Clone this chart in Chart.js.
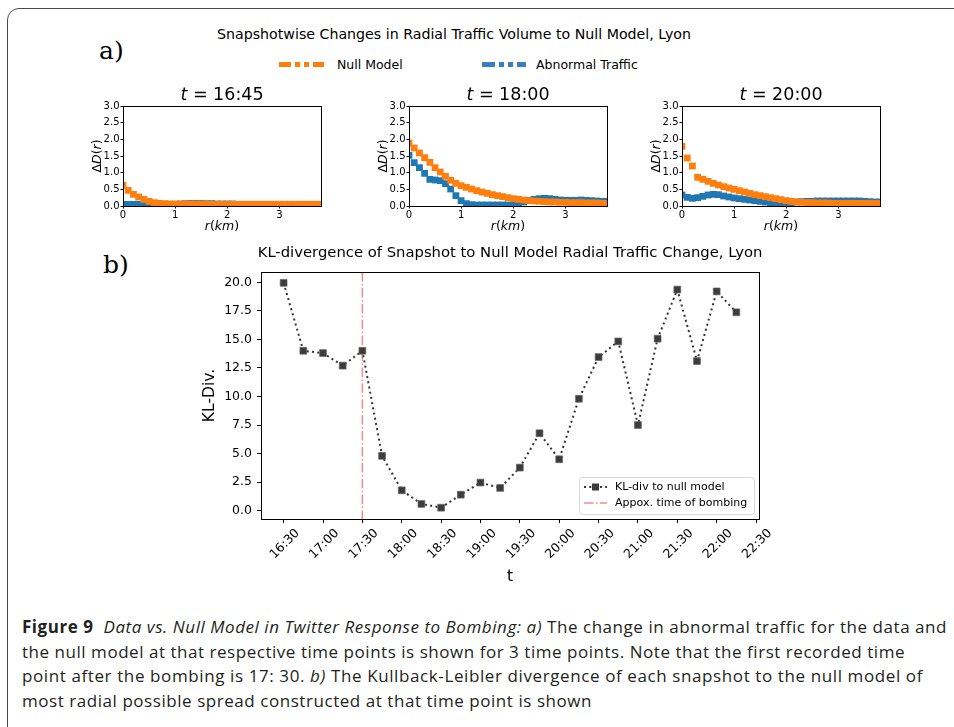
<!DOCTYPE html>
<html>
<head>
<meta charset="utf-8">
<script src="https://cdn.jsdelivr.net/npm/chart.js@4.4.0/dist/chart.umd.min.js"></script>
<style>
  body { margin: 0; width: 954px; height: 727px; background: #fff; position: relative; overflow: hidden; font-family: 'DejaVu Sans', sans-serif; color: #000; }
  .frame { position: absolute; left: 7px; top: 8px; width: 1000px; height: 800px; border: 1.5px solid #4a4a4a; border-radius: 12px; }
  .abs { position: absolute; white-space: nowrap; }
  .panel-tag { font-family: 'DejaVu Serif', serif; font-size: 25px; line-height: 26px; }
  .suptitle { font-size: 14.2px; line-height: 16px; transform: translateX(-50%); }
  .leg-text { font-size: 12.5px; line-height: 16px; }
  .sample { position: absolute; height: 5px; }
  .sample span { position: absolute; top: 0; height: 5px; }
  canvas { position: absolute; }
  .caption { position: absolute; left: 22px; top: 615px; font-family: 'Open Sans', sans-serif; font-size: 17px; line-height: 24.7px; color: #231f20; }
  .caption div { white-space: nowrap; width: max-content; }
</style>
</head>
<body>
<div class="frame"></div>

<div class="abs panel-tag" style="left:99px; top:38px;">a)</div>
<div class="abs panel-tag" style="left:103px; top:252px;">b)</div>

<div class="abs suptitle" style="left:454px; top:26px;">Snapshotwise Changes in Radial Traffic Volume to Null Model, Lyon</div>

<div class="sample" id="sampleNull" style="left:279px; top:62px;"></div>
<div class="abs leg-text" style="left:337px; top:57px;">Null Model</div>
<div class="sample" id="sampleAbn" style="left:482px; top:62px;"></div>
<div class="abs leg-text" style="left:536px; top:57px;">Abnormal Traffic</div>

<canvas id="snap1" width="245" height="152" style="left:85px; top:80px;"></canvas>
<canvas id="snap2" width="245" height="152" style="left:371px; top:80px;"></canvas>
<canvas id="snap3" width="245" height="152" style="left:644px; top:80px;"></canvas>

<canvas id="klChart" width="660" height="370" style="left:140px; top:240px;"></canvas>

<div class="caption">
  <div class="cap-line" data-w="925"><b>Figure 9</b>&nbsp;&nbsp;<i>Data vs. Null Model in Twitter Response to Bombing: a)</i> The change in abnormal traffic for the data and</div>
  <div class="cap-line" data-w="883">the null model at that respective time points is shown for 3 time points. Note that the first recorded time</div>
  <div class="cap-line" data-w="901">point after the bombing is 17: 30. <i>b)</i> The Kullback-Leibler divergence of each snapshot to the null model of</div>
  <div class="cap-line" data-w="570">most radial possible spread constructed at that time point is shown</div>
</div>

<script>
// 半径 (km)
const rKm = [0.0, 0.1, 0.2, 0.3, 0.4, 0.5, 0.6, 0.7, 0.8, 0.9,
             1.0, 1.1, 1.2, 1.3, 1.4, 1.5, 1.6, 1.7, 1.8, 1.9,
             2.0, 2.1, 2.2, 2.3, 2.4, 2.5, 2.6, 2.7, 2.8, 2.9,
             3.0, 3.1, 3.2, 3.3, 3.4, 3.5, 3.6, 3.7, 3.8];

// t = 16:45
const null1645 = [0.62, 0.47, 0.35, 0.27, 0.20, 0.14, 0.10, 0.08, 0.07, 0.06,
                  0.06, 0.06, 0.06, 0.06, 0.06, 0.06, 0.06, 0.05, 0.05, 0.05,
                  0.05, 0.05, 0.05, 0.05, 0.05, 0.05, 0.05, 0.05, 0.05, 0.05,
                  0.05, 0.05, 0.05, 0.05, 0.05, 0.05, 0.05, 0.05, 0.05];
const abnormal1645 = [0.05, 0.05, 0.05, 0.05, 0.04, 0.04, 0.04, 0.04, 0.05, 0.05,
                      0.05, 0.06, 0.07, 0.08, 0.08, 0.08, 0.07, 0.07, 0.06, 0.06,
                      0.06, 0.06, 0.05, 0.05, 0.05, 0.05, 0.05, 0.05, 0.05, 0.05,
                      0.05, 0.05, 0.05, 0.05, 0.05, 0.05, 0.05, 0.05, 0.05];

// t = 18:00
const null1800 = [1.89, 1.74, 1.59, 1.45, 1.31, 1.15, 1.02, 0.89, 0.77, 0.68,
                  0.61, 0.56, 0.51, 0.46, 0.42, 0.38, 0.34, 0.31, 0.28, 0.25,
                  0.22, 0.20, 0.18, 0.16, 0.15, 0.14, 0.13, 0.12, 0.12, 0.11,
                  0.11, 0.10, 0.10, 0.10, 0.09, 0.09, 0.09, 0.08, 0.08];
const abnormal1800 = [1.52, 1.30, 1.15, 0.98, 0.80, 0.78, 0.76, 0.67, 0.51, 0.31,
                      0.16, 0.07, 0.04, 0.03, 0.03, 0.03, 0.03, 0.03, 0.03, 0.03,
                      0.04, 0.07, 0.12, 0.17, 0.20, 0.22, 0.23, 0.22, 0.20, 0.18,
                      0.17, 0.17, 0.17, 0.18, 0.17, 0.16, 0.15, 0.14, 0.14];

// t = 20:00
const null2000 = [1.79, 1.44, 1.20, 0.86, 0.80, 0.74, 0.68, 0.63, 0.58, 0.54,
                  0.50, 0.46, 0.42, 0.38, 0.34, 0.31, 0.28, 0.25, 0.22, 0.19,
                  0.16, 0.14, 0.12, 0.11, 0.10, 0.10, 0.09, 0.09, 0.09, 0.08,
                  0.08, 0.08, 0.08, 0.08, 0.08, 0.08, 0.08, 0.08, 0.08];
const abnormal2000 = [0.33, 0.26, 0.23, 0.25, 0.29, 0.33, 0.35, 0.34, 0.30, 0.27,
                      0.24, 0.22, 0.20, 0.18, 0.16, 0.14, 0.12, 0.10, 0.08, 0.07,
                      0.08, 0.10, 0.12, 0.13, 0.14, 0.14, 0.15, 0.15, 0.15, 0.15,
                      0.15, 0.15, 0.15, 0.15, 0.15, 0.14, 0.13, 0.12, 0.12];

const snapshotLabels = ['16:45', '18:00', '20:00'];

// KL 散度
const klTimes = ['16:30', '16:45', '17:00', '17:15', '17:30', '17:45', '18:00', '18:15',
                 '18:30', '18:45', '19:00', '19:15', '19:30', '19:45', '20:00', '20:15',
                 '20:30', '20:45', '21:00', '21:15', '21:30', '21:45', '22:00', '22:15'];
const klDiv = [19.95, 14.0, 13.8, 12.7, 14.0, 4.8, 1.78, 0.59,
               0.26, 1.4, 2.46, 1.99, 3.77, 6.78, 4.5, 9.8,
               13.45, 14.82, 7.5, 15.06, 19.36, 13.1, 19.2, 17.37];
const bombTime = '17:30';

const ORANGE = '#ff7f0e';
const BLUE = '#1f77b4';
const FONT = 'DejaVu Sans';

function toMin(t) {
  const [h, m] = t.split(':').map(Number);
  return h * 60 + m;
}
function fmtTime(v) {
  const h = Math.floor(v / 60);
  const m = Math.round(v % 60);
  return `${h}:${String(m).padStart(2, '0')}`;
}

// 画混合斜体文字 (mathtext 样式)
function drawMath(ctx, parts, x, y, size, rot) {
  ctx.save();
  ctx.translate(x, y);
  ctx.rotate(rot || 0);
  ctx.textBaseline = 'middle';
  ctx.textAlign = 'left';
  ctx.fillStyle = '#000';
  let total = 0;
  parts.forEach(p => {
    ctx.font = `${p[1] ? 'italic ' : ''}${size}px "${FONT}"`;
    total += ctx.measureText(p[0]).width;
  });
  let cx = -total / 2;
  parts.forEach(p => {
    ctx.font = `${p[1] ? 'italic ' : ''}${size}px "${FONT}"`;
    ctx.fillText(p[0], cx, 0);
    cx += ctx.measureText(p[0]).width;
  });
  ctx.restore();
}

function strokeBox(ctx, a) {
  ctx.save();
  ctx.strokeStyle = '#000';
  ctx.lineWidth = 1;
  ctx.strokeRect(Math.round(a.left) + 0.5, Math.round(a.top) + 0.5,
                 Math.round(a.right - a.left), Math.round(a.bottom - a.top));
  ctx.restore();
}

// 图例样例 (a)
function buildSample(id, color, pattern) {
  const el = document.getElementById(id);
  let x = 0;
  pattern.forEach((w, i) => {
    if (i % 2 === 0) {
      const s = document.createElement('span');
      s.style.left = x + 'px';
      s.style.width = w + 'px';
      s.style.background = color;
      el.appendChild(s);
    }
    x += w;
  });
}
buildSample('sampleNull', ORANGE, [12, 4, 5, 4, 5, 4, 11]);
buildSample('sampleAbn', '#3a7ebf', [13, 4, 5, 4, 5, 4, 9]);

// 小图
function makeSnapshot(canvasId, label, nullData, abnData) {
  const decor = {
    id: 'snapDecor',
    afterDraw(chart) {
      const ctx = chart.ctx;
      const a = chart.chartArea;
      strokeBox(ctx, a);
      const cx = (a.left + a.right) / 2;
      drawMath(ctx, [['t', true], [' = ' + label, false]], cx, a.top - 11, 17.5);
      drawMath(ctx, [['Δ', false], ['D', true], ['(', false], ['r', true], [')', false]],
               a.left - 25, (a.top + a.bottom) / 2, 12.5, -Math.PI / 2);
      drawMath(ctx, [['r', true], ['(', false], ['km', true], [')', false]], cx, a.bottom + 21, 12.5);
    }
  };
  const pointDs = (lbl, data, color) => ({
    label: lbl,
    data: rKm.map((r, i) => ({ x: r, y: data[i] })),
    showLine: false,
    pointStyle: 'rect',
    pointRadius: 4.8,
    pointBorderWidth: 0,
    pointBackgroundColor: color,
    borderColor: color,
    clip: 0,
  });
  return new Chart(document.getElementById(canvasId), {
    type: 'line',
    data: {
      datasets: [
        pointDs('Null Model', nullData, ORANGE),
        pointDs('Abnormal Traffic', abnData, BLUE),
      ]
    },
    options: {
      responsive: false,
      animation: false,
      events: [],
      layout: { padding: { top: 26, right: 9, left: 0, bottom: 0 } },
      plugins: { legend: { display: false }, tooltip: { enabled: false } },
      scales: {
        x: {
          type: 'linear', min: 0, max: 3.8,
          afterFit: s => { s.height = 26; },
          border: { display: false },
          grid: { drawOnChartArea: false, tickLength: 2.5, color: '#000' },
          ticks: { stepSize: 1, includeBounds: false, padding: 1, maxRotation: 0, color: '#000',
                   font: { family: FONT, size: 10 } }
        },
        y: {
          min: 0, max: 3,
          afterFit: s => { s.width = 38; },
          border: { display: false },
          grid: { drawOnChartArea: false, tickLength: 2.5, color: '#000' },
          ticks: { stepSize: 0.5, padding: 1, color: '#000', font: { family: FONT, size: 10 },
                   callback: v => v.toFixed(1) }
        }
      }
    },
    plugins: [decor]
  });
}

makeSnapshot('snap1', snapshotLabels[0], null1645, abnormal1645);
makeSnapshot('snap2', snapshotLabels[1], null1800, abnormal1800);
makeSnapshot('snap3', snapshotLabels[2], null2000, abnormal2000);

// KL 主图
const xMin = toMin(klTimes[0]) - 17.25;
const xMax = toMin(klTimes[klTimes.length - 1]) + 17.25;
const yMin = -0.73;
const yMax = 20.9;
const BOMB_COLOR = '#f48a8a';
const LINE_DASH = [2, 3.3];
const BOMB_DASH = [9.6, 2.4, 1.5, 2.4];

const klDecor = {
  id: 'klDecor',
  beforeDatasetsDraw(chart) {
    const ctx = chart.ctx;
    const a = chart.chartArea;
    const x = chart.scales.x.getPixelForValue(toMin(bombTime));
    ctx.save();
    ctx.strokeStyle = BOMB_COLOR;
    ctx.lineWidth = 1.5;
    ctx.setLineDash(BOMB_DASH);
    ctx.beginPath();
    ctx.moveTo(x, a.top);
    ctx.lineTo(x, a.bottom);
    ctx.stroke();
    ctx.restore();
  },
  afterDraw(chart) {
    const ctx = chart.ctx;
    const a = chart.chartArea;
    strokeBox(ctx, a);
    const cx = (a.left + a.right) / 2;
    ctx.save();
    ctx.fillStyle = '#000';
    ctx.textAlign = 'center';
    ctx.textBaseline = 'middle';
    ctx.font = `14.8px "${FONT}"`;
    ctx.fillText('KL-divergence of Snapshot to Null Model Radial Traffic Change, Lyon', cx, a.top - 19);
    ctx.font = `15.5px "${FONT}"`;
    ctx.fillText('t', cx, a.bottom + 58);
    ctx.translate(a.left - 51, (a.top + a.bottom) / 2);
    ctx.rotate(-Math.PI / 2);
    ctx.fillText('KL-Div.', 0, 0);
    ctx.restore();

    // 图例
    const w = 175, h = 37;
    const lx = a.right - 5 - w, ly = a.bottom - 5 - h;
    ctx.save();
    ctx.beginPath();
    ctx.roundRect(lx + 0.5, ly + 0.5, w, h, 3);
    ctx.fillStyle = 'rgba(255,255,255,0.8)';
    ctx.fill();
    ctx.strokeStyle = '#d6d6d6';
    ctx.lineWidth = 1;
    ctx.stroke();
    const row1 = ly + 10, row2 = ly + 26;
    ctx.strokeStyle = '#333';
    ctx.lineWidth = 2;
    ctx.setLineDash(LINE_DASH);
    ctx.beginPath();
    ctx.moveTo(lx + 5, row1);
    ctx.lineTo(lx + 28, row1);
    ctx.stroke();
    ctx.setLineDash([]);
    ctx.fillStyle = '#3a3a3a';
    ctx.fillRect(lx + 13, row1 - 3.5, 7, 7);
    ctx.strokeStyle = BOMB_COLOR;
    ctx.lineWidth = 1.5;
    ctx.setLineDash(BOMB_DASH);
    ctx.beginPath();
    ctx.moveTo(lx + 5, row2);
    ctx.lineTo(lx + 28, row2);
    ctx.stroke();
    ctx.setLineDash([]);
    ctx.fillStyle = '#000';
    ctx.font = `11px "${FONT}"`;
    ctx.textAlign = 'left';
    ctx.textBaseline = 'middle';
    ctx.fillText('KL-div to null model', lx + 36, row1);
    ctx.fillText('Appox. time of bombing', lx + 36, row2);
    ctx.restore();
  }
};

new Chart(document.getElementById('klChart'), {
  type: 'line',
  data: {
    datasets: [{
      label: 'KL-div to null model',
      data: klTimes.map((t, i) => ({ x: toMin(t), y: klDiv[i] })),
      borderColor: '#333',
      borderWidth: 2,
      borderDash: LINE_DASH,
      tension: 0,
      fill: false,
      pointStyle: 'rect',
      pointRadius: 4.8,
      pointBorderWidth: 1,
      pointBackgroundColor: '#3c3c3c',
      pointBorderColor: 'rgba(100,100,100,0.7)',
    }]
  },
  options: {
    responsive: false,
    animation: false,
    events: [],
    layout: { padding: { top: 32, right: 41, left: 0, bottom: 0 } },
    plugins: { legend: { display: false }, tooltip: { enabled: false } },
    scales: {
      x: {
        type: 'linear', min: xMin, max: xMax,
        afterFit: s => { s.height = 91; },
        border: { display: false },
        grid: { drawOnChartArea: false, tickLength: 4, color: '#000' },
        ticks: { stepSize: 30, includeBounds: false, autoSkip: false, maxRotation: 45, minRotation: 45,
                 padding: 3, labelOffset: 14, color: '#000', font: { family: FONT, size: 12.5 },
                 callback: v => fmtTime(v) }
      },
      y: {
        min: yMin, max: yMax,
        afterFit: s => { s.width = 121; },
        border: { display: false },
        grid: { drawOnChartArea: false, tickLength: 4, color: '#000' },
        ticks: { stepSize: 2.5, includeBounds: false, padding: 5, color: '#000',
                 font: { family: FONT, size: 12.5 }, callback: v => v.toFixed(1) }
      }
    }
  },
  plugins: [klDecor]
});

// 说明文字宽度对齐
document.querySelectorAll('.cap-line').forEach(el => {
  const target = Number(el.dataset.w);
  const w = el.getBoundingClientRect().width;
  const n = el.textContent.length;
  el.style.letterSpacing = ((target - w) / n) + 'px';
});
</script>
</body>
</html>
